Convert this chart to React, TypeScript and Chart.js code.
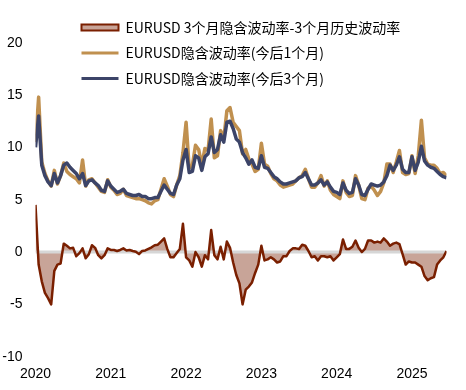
import React, { useEffect, useRef } from 'react';
import { Chart, registerables } from 'chart.js';

Chart.register(...registerables);

// ---- data (semi-monthly observations starting 2020) ----
const START_YEAR = 2020;
const PERIODS_PER_YEAR = 24;
const yearTicks = [2020, 2021, 2022, 2023, 2024, 2025];
const yMin = -10;
const yMax = 20;
const yStep = 5;

const seriesNames = [
  'EURUSD 3个月隐含波动率-3个月历史波动率',
  'EURUSD隐含波动率(今后1个月)',
  'EURUSD隐含波动率(今后3个月)',
];

// 3M implied minus 3M realised
const spread = [
  4.5, -1.2, -2.8, -3.9, -4.4, -5.0, -1.8, -1.2, -1.1, 0.8,
  0.6, 0.35, 0.4, -0.4, -0.1, 0.35, -0.6, -0.2, 0.65, 0.4,
  -0.3, -0.6, -0.3, 0.35, 0.2, 0.2, 0.1, 0.2, 0.35, 0.15,
  0.2, 0.1, 0.03, -0.2, 0.1, 0.15, 0.3, 0.45, 0.65, 0.7,
  1.0, 1.3, 0.3, -0.5, -0.5, -0.1, 0.3, 2.7, -0.5, -0.8,
  -1.4, 0.0, -0.5, -1.4, -0.3, -0.7, 2.1, -0.3, -0.7, 0.5,
  -0.7, 1.0, 0.4, -1.0, -2.2, -3.0, -5.0, -3.6, -3.3, -2.9,
  -2.0, -1.2, 0.6, -0.8, -0.7, -0.5, -0.7, -1.0, -0.9, -0.4,
  -0.4, 0.1, 0.35, 0.35, 0.3, 0.7, 0.6, 0.1, -0.5, -0.4,
  -0.8, -0.4, -0.4, -0.5, -0.4, -0.8, -0.5, -0.2, 1.2, 0.3,
  0.3, 0.5, 1.1, 0.4, 0.0, 0.3, 1.1, 1.1, 0.9, 1.0,
  0.9, 1.3, 1.0, 0.6, 0.8, 0.9, 0.75, -0.2, -1.2, -0.9,
  -1.0, -1.0, -1.2, -1.4, -2.3, -2.7, -2.5, -2.4, -1.2, -0.8,
  -0.5, 0.1,
];

// 1M implied vol
const iv1m = [
  10.5, 14.8, 8.6, 7.5, 6.8, 6.3, 7.8, 6.5, 7.3, 8.5,
  7.7, 7.4, 7.2, 7.0, 6.6, 8.8, 6.3, 6.9, 7.0, 6.6,
  6.2, 5.8, 5.7, 6.9, 6.2, 5.9, 5.5, 5.6, 6.0, 5.4,
  5.3, 5.2, 5.1, 5.1, 5.0, 4.9, 4.7, 4.6, 4.9, 5.0,
  6.0, 7.0, 6.3, 5.5, 5.3, 6.4, 7.3, 9.5, 12.4, 8.0,
  8.3, 10.2, 9.8, 8.3, 9.9, 9.7, 12.7, 9.0, 9.2, 11.6,
  10.8, 13.5, 13.8, 12.4, 12.0, 11.6, 9.4, 9.8, 8.9, 8.4,
  7.7, 7.9, 10.4, 8.4, 8.2, 7.5, 7.0, 6.8, 6.4, 6.2,
  6.3, 6.4, 6.5, 6.8, 7.1, 7.3, 7.9, 7.0, 6.2, 6.2,
  6.6, 7.3, 6.3, 6.8, 5.9, 5.5, 5.3, 5.1, 6.8, 5.7,
  5.3, 5.4, 7.3, 6.4, 5.1, 5.0, 6.1, 6.3, 5.9, 5.4,
  5.8, 6.6, 8.4, 8.4, 7.6, 8.6, 9.7, 7.6, 7.4, 7.5,
  9.2, 7.5, 9.2, 12.6, 9.0, 8.4, 8.3, 8.3, 8.0, 7.5,
  7.6, 7.3,
];

// 3M implied vol
const iv3m = [
  10.0, 13.0, 8.3, 7.3, 6.7, 6.35, 7.5, 6.6, 7.3, 8.3,
  8.5, 8.1, 7.8, 7.5, 7.0, 7.5, 6.35, 6.8, 6.9, 6.6,
  6.35, 5.9, 5.8, 6.8, 6.3, 6.0, 5.7, 5.8, 6.0, 5.6,
  5.5, 5.4, 5.4, 5.5, 5.3, 5.3, 5.1, 5.1, 5.2, 5.2,
  5.8, 6.4, 6.0, 5.6, 5.5, 6.4, 7.0, 8.8, 9.8, 7.6,
  7.7, 9.2, 9.0, 7.8, 9.1, 9.4, 11.0, 9.5, 9.8, 11.2,
  10.5, 12.4, 12.5, 11.8, 10.8, 10.5, 9.5, 9.0, 8.4, 8.8,
  8.1, 8.0, 9.2, 8.1, 8.0, 7.6, 7.2, 7.0, 6.7, 6.5,
  6.5, 6.6, 6.7, 6.8, 7.1, 7.2, 7.6, 7.0, 6.4, 6.4,
  6.6, 6.9, 6.4, 6.7, 6.2, 5.8, 5.7, 5.5, 6.6, 5.9,
  5.6, 5.7, 7.0, 6.4, 5.5, 5.4, 6.0, 6.5, 6.4, 6.3,
  6.4, 6.7, 7.3, 8.3, 7.8, 8.3, 9.1, 7.9, 7.6, 7.6,
  9.1, 7.8, 8.6, 10.1, 8.7, 8.3, 8.1, 8.0, 7.7, 7.4,
  7.2, 7.1,
];

const zeroLine = spread.map(() => 0);
const times = spread.map((_, i) => START_YEAR + i / PERIODS_PER_YEAR);

// ---- styles ----
const PINK = '#C8A498';
const DARK_RED = '#7A1F00';
const TAN = '#C0904F';
const NAVY = '#3C4468';
const ZERO_GRAY = '#D6D6D6';
const TICK_FONT = { family: "'Liberation Sans', Arial, sans-serif", size: 14 };
const LEGEND_FONT = { family: "'Noto Sans CJK SC', sans-serif", size: 14 };

const toPoints = (vals: number[]) => vals.map((y, i) => ({ x: times[i], y }));

const legendPlacement = {
  id: 'legendPlacement',
  afterLayout(chart: any) {
    const lg = chart.legend;
    if (lg) {
      lg.left = 70;
      lg.top = 9;
    }
  },
};

export default function App() {
  const canvasRef = useRef<HTMLCanvasElement | null>(null);

  useEffect(() => {
    if (!canvasRef.current) return;
    const chart = new Chart(canvasRef.current, {
      type: 'line',
      data: {
        datasets: [
          {
            label: seriesNames[0],
            data: toPoints(spread),
            borderColor: 'rgba(0,0,0,0)',
            borderWidth: 0,
            backgroundColor: PINK,
            fill: 'origin',
            pointRadius: 0,
            order: 5,
          },
          {
            label: 'zero',
            data: toPoints(zeroLine),
            borderColor: ZERO_GRAY,
            borderWidth: 3,
            fill: false,
            pointRadius: 0,
            order: 4,
          },
          {
            label: seriesNames[1],
            data: toPoints(iv1m),
            borderColor: TAN,
            borderWidth: 3.5,
            fill: false,
            pointRadius: 0,
            order: 3,
          },
          {
            label: seriesNames[2],
            data: toPoints(iv3m),
            borderColor: NAVY,
            borderWidth: 3.5,
            fill: false,
            pointRadius: 0,
            order: 2,
          },
          {
            label: seriesNames[0] + ' line',
            data: toPoints(spread),
            borderColor: DARK_RED,
            borderWidth: 2.5,
            fill: false,
            pointRadius: 0,
            order: 1,
          },
        ],
      },
      options: {
        animation: false,
        responsive: true,
        maintainAspectRatio: false,
        layout: { padding: { left: 2.5, right: 19.5, top: 42.7, bottom: 0 } },
        elements: { line: { tension: 0, borderJoinStyle: 'round' } },
        scales: {
          x: {
            type: 'linear',
            min: times[0],
            max: times[times.length - 1],
            grid: { display: false, drawTicks: false },
            border: { display: false },
            afterFit: (s: any) => {
              s.height = 33.3;
            },
            ticks: {
              stepSize: 1,
              includeBounds: false,
              autoSkip: false,
              maxRotation: 0,
              padding: 9,
              color: '#000',
              font: TICK_FONT,
              callback: (v: any) => (yearTicks.includes(Number(v)) ? String(v) : ''),
            },
          },
          y: {
            min: yMin,
            max: yMax,
            grid: { display: false, drawTicks: false },
            border: { display: false },
            afterFit: (s: any) => {
              s.width = 33;
            },
            ticks: {
              stepSize: yStep,
              padding: 13,
              color: '#000',
              font: TICK_FONT,
              callback: (v: any) => String(v),
            },
          },
        },
        plugins: {
          tooltip: { enabled: false },
          legend: {
            position: 'chartArea' as any,
            align: 'start',
            labels: {
              usePointStyle: true,
              pointStyleWidth: 37,
              boxHeight: 6,
              padding: 11.5,
              color: '#000',
              font: LEGEND_FONT,
              generateLabels: () => [
                {
                  text: seriesNames[0],
                  fillStyle: PINK,
                  strokeStyle: DARK_RED,
                  lineWidth: 2,
                  pointStyle: 'rect',
                  fontColor: '#000',
                  hidden: false,
                  datasetIndex: 0,
                },
                {
                  text: seriesNames[1],
                  fillStyle: TAN,
                  strokeStyle: TAN,
                  lineWidth: 3,
                  pointStyle: 'line',
                  fontColor: '#000',
                  hidden: false,
                  datasetIndex: 2,
                },
                {
                  text: seriesNames[2],
                  fillStyle: NAVY,
                  strokeStyle: NAVY,
                  lineWidth: 3,
                  pointStyle: 'line',
                  fontColor: '#000',
                  hidden: false,
                  datasetIndex: 3,
                },
              ],
            },
          },
        },
      },
      plugins: [legendPlacement],
    } as any);
    return () => chart.destroy();
  }, []);

  return (
    <div style={{ position: 'fixed', left: 0, top: 0, width: 466, height: 390, background: '#fff' }}>
      <canvas ref={canvasRef} />
    </div>
  );
}
